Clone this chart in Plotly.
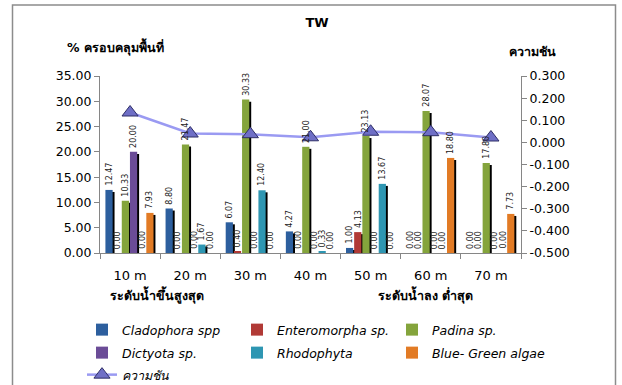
import plotly.graph_objects as go

# ---- data -------------------------------------------------------------
categories = ["10 m", "20 m", "30 m", "40 m", "50 m", "60 m", "70 m"]

cladophora = [12.47, 8.80, 6.07, 4.27, 1.00, 0.00, 0.00]
enteromorpha = [0.00, 0.00, 0.40, 0.00, 4.13, 0.00, 0.00]
padina = [10.33, 21.47, 30.33, 21.00, 23.13, 28.07, 17.80]
dictyota = [20.00, 0.00, 0.00, 0.00, 0.00, 0.00, 0.00]
rhodophyta = [0.00, 1.67, 12.40, 0.33, 13.67, 0.00, 0.00]
blue_green = [7.93, 0.00, 0.00, 0.00, 0.00, 18.80, 7.73]

slope = [0.135, 0.040, 0.037, 0.023, 0.048, 0.046, 0.022]

series_names = ["Cladophora spp", "Enteromorpha sp.", "Padina sp.",
                "Dictyota sp.", "Rhodophyta", "Blue- Green algae"]
series_values = [cladophora, enteromorpha, padina, dictyota, rhodophyta, blue_green]
series_colors = ["#2d5f9e", "#b13a36", "#84a43c", "#6b4c97", "#2e96b2", "#e27b25"]
# legend rows: first three series, last three series, then the line
series_legends = ["legend", "legend", "legend", "legend2", "legend2", "legend2"]

left_ticks = [0, 5, 10, 15, 20, 25, 30, 35]
right_ticks = [-0.5, -0.4, -0.3, -0.2, -0.1, 0.0, 0.1, 0.2, 0.3]

# ---- layout geometry --------------------------------------------------
W, H = 622, 385
ML, MR, MT, MB = 100, 101, 76, 132
PW, PH = W - ML - MR, H - MT - MB

def px_x(x):
    return (x - ML) / PW

def px_y(y):
    return (H - MB - y) / PH

FONT = "DejaVu Sans"
AXIS_GREY = "#868686"

# bar slots inside each category (category units)
pitch = 0.136
start = -0.41
bar_w = 0.12
shadow_dx = 0.032
shadow_drop = 0.4

fig = go.Figure()

# black drop shadows behind every bar
for k, vals in enumerate(series_values):
    fig.add_trace(go.Bar(
        x=categories, y=[max(v - shadow_drop, 0) for v in vals],
        offset=start + k * pitch + shadow_dx, width=bar_w,
        marker=dict(color="#000000", line=dict(width=0)),
        showlegend=False, hoverinfo="skip",
    ))

# coloured bars
for k, (name, vals, col, lg) in enumerate(zip(series_names, series_values,
                                               series_colors, series_legends)):
    fig.add_trace(go.Bar(
        x=categories, y=vals, name=name, legend=lg,
        offset=start + k * pitch, width=bar_w,
        marker=dict(color=col, line=dict(width=0)),
    ))
    # rotated value labels above each bar
    for i, v in enumerate(vals):
        fig.add_annotation(
            x=i + start + k * pitch + bar_w / 2, y=v, xref="x", yref="y",
            text=f"{v:.2f}", textangle=-90, showarrow=False,
            xanchor="center", yanchor="bottom", yshift=2,
            font=dict(family=FONT, size=8, color="#222222"),
        )

# slope line on the secondary axis
fig.add_trace(go.Scatter(
    x=categories, y=slope, name="ความชัน", yaxis="y2", legend="legend3",
    mode="lines+markers",
    line=dict(color="#9a9af2", width=2.5),
    marker=dict(symbol="triangle-up", size=14, color="#6f6fc6",
                line=dict(color="#2e2e66", width=1)),
))

legend_common = dict(
    orientation="h", x=px_x(82), xanchor="left", yanchor="middle",
    entrywidth=110, entrywidthmode="pixels",
    font=dict(family=FONT, size=12.5, style="italic"),
    bgcolor="rgba(0,0,0,0)",
)

fig.update_layout(
    width=W, height=H,
    margin=dict(l=ML, r=MR, t=MT, b=MB, autoexpand=False),
    paper_bgcolor="white", plot_bgcolor="white",
    barmode="overlay",
    font=dict(family=FONT, size=12.5, color="#000000"),
    title=dict(text="<b>TW</b>", x=317 / W, xanchor="center",
               y=1 - 22 / H, yanchor="middle",
               font=dict(family=FONT, size=13, color="#000000")),
    xaxis=dict(
        type="category", range=[-0.5, 6.5],
        showline=True, linecolor=AXIS_GREY, linewidth=1,
        ticks="outside", ticklen=5, tickcolor=AXIS_GREY, tickson="boundaries",
        ticklabelstandoff=10, showgrid=False, zeroline=False,
        tickfont=dict(family=FONT, size=13),
    ),
    yaxis=dict(
        range=[0, 35], tickvals=left_ticks,
        ticktext=[f"{v:.2f}" for v in left_ticks],
        showline=True, linecolor=AXIS_GREY, linewidth=1,
        ticks="outside", ticklen=5, tickcolor=AXIS_GREY,
        showgrid=False, zeroline=False,
        tickfont=dict(family=FONT, size=12.5),
    ),
    yaxis2=dict(
        overlaying="y", side="right", range=[-0.5, 0.3],
        tickvals=right_ticks, ticktext=[f"{v:.3f}" for v in right_ticks],
        showline=True, linecolor=AXIS_GREY, linewidth=1,
        ticks="outside", ticklen=5, tickcolor=AXIS_GREY,
        showgrid=False, zeroline=False,
        tickfont=dict(family=FONT, size=12.5),
    ),
    legend=dict(legend_common, y=px_y(330)),
    legend2=dict(legend_common, y=px_y(353)),
    legend3=dict(legend_common, y=px_y(375)),
    showlegend=True,
)

# axis titles and the two tide-level captions
fig.add_annotation(text="<b>% ครอบคลุมพื้นที่</b>", x=px_x(65), y=px_y(47),
                   xref="paper", yref="paper", xanchor="left", yanchor="middle",
                   showarrow=False, font=dict(family=FONT, size=12.5))
fig.add_annotation(text="<b>ความชัน</b>", x=px_x(507), y=px_y(52),
                   xref="paper", yref="paper", xanchor="left", yanchor="middle",
                   showarrow=False, font=dict(family=FONT, size=12.5))
fig.add_annotation(text="<b>ระดับน้ำขึ้นสูงสุด</b>", x=px_x(157), y=px_y(295),
                   xref="paper", yref="paper", xanchor="center", yanchor="middle",
                   showarrow=False, font=dict(family=FONT, size=12.5))
fig.add_annotation(text="<b>ระดับน้ำลง ต่ำสุด</b>", x=px_x(425), y=px_y(295),
                   xref="paper", yref="paper", xanchor="center", yanchor="middle",
                   showarrow=False, font=dict(family=FONT, size=12.5))

# outer chart border
fig.add_shape(type="rect", xref="paper", yref="paper",
              x0=px_x(12.5), x1=px_x(615.5), y0=px_y(420), y1=px_y(5),
              line=dict(color="#8c8c8c", width=1.5), fillcolor="rgba(0,0,0,0)",
              layer="below")

fig.write_html("out.html")
